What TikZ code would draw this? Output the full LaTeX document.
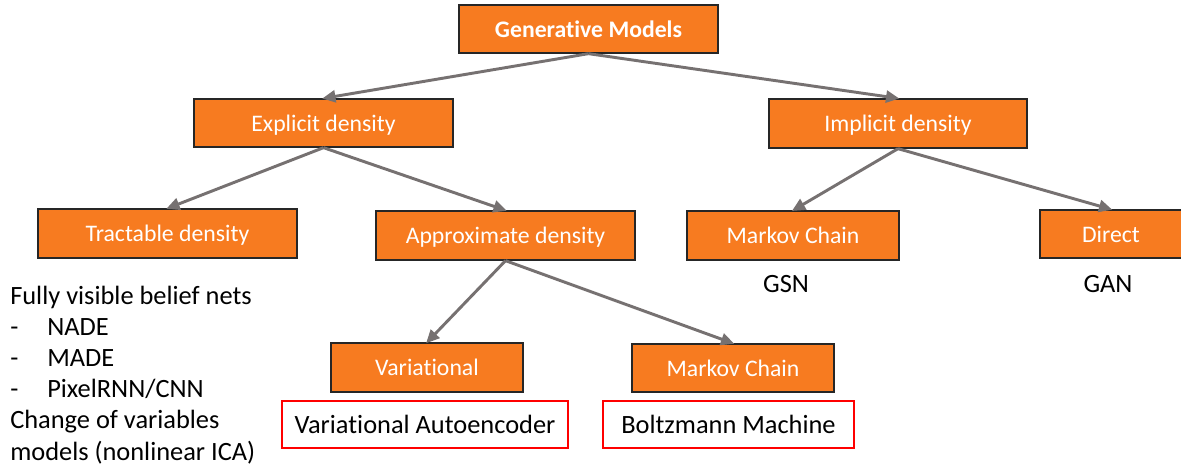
\documentclass[tikz,border=0pt]{standalone}
\usepackage{fontspec}
\setmainfont{Carlito}[Ligatures={NoCommon}]
\usetikzlibrary{arrows.meta}
\definecolor{org}{RGB}{247,123,32}
\definecolor{arrgray}{RGB}{118,113,113}
\definecolor{redb}{RGB}{255,0,0}
\newlength{\pxu}\setlength{\pxu}{0.75pt}
\begin{document}
\begin{tikzpicture}[x=0.75pt,y=-0.75pt,
  obox/.style={draw=black!85, line width=1pt, fill=org, inner sep=0pt, text=white, text height=16pt, text depth=3.5pt, font=\fontsize{17.8}{21}\selectfont},
  rbox/.style={draw=redb, line width=1.6pt, fill=white, inner sep=0pt, text height=17pt, text depth=3.8pt, font=\fontsize{19.8}{23}\selectfont},
  plain/.style={inner sep=0pt, font=\fontsize{19.8}{23}\selectfont},
  conn/.style={draw=arrgray, line width=2.2pt, -{Triangle[length=10pt,width=9pt]}, shorten >=-1pt}
]
\useasboundingbox (0,0) rectangle (1181,473);
\node[obox, minimum width=259\pxu, minimum height=48\pxu, font=\fontsize{17.8}{21}\selectfont\bfseries] (gen) at (588.5,29) {Generative Models};
\node[obox, minimum width=259\pxu, minimum height=48\pxu] (expl) at (323.5,123) {Explicit density};
\node[obox, minimum width=258\pxu, minimum height=49\pxu] (impl) at (898,123.5) {Implicit density};
\node[obox, minimum width=259\pxu, minimum height=49\pxu] (tract) at (167.5,233.5) {Tractable density};
\node[obox, minimum width=259\pxu, minimum height=49\pxu] (approx) at (505.5,235.5) {Approximate density};
\node[obox, minimum width=212\pxu, minimum height=49\pxu] (mc1) at (793,235.5) {Markov Chain};
\node[obox, minimum width=142\pxu, minimum height=48\pxu] (direct) at (1111,234) {Direct};
\node[obox, minimum width=192\pxu, minimum height=49\pxu] (var) at (427,367.5) {Variational};
\node[obox, minimum width=202\pxu, minimum height=48\pxu] (mc2) at (733,368) {Markov Chain};
\node[rbox, minimum width=286\pxu, minimum height=47\pxu] (vae) at (425,424.5) {Variational Autoencoder};
\node[rbox, minimum width=251\pxu, minimum height=47\pxu] (boltz) at (728.5,424.5) {Boltzmann Machine};
\node[plain, anchor=base] (gsn) at (786,293) {GSN};
\node[plain, anchor=base] (gan) at (1108,293) {GAN};
\node[plain, anchor=base west] (l1) at (10,305) {Fully visible belief nets};
\node[plain, anchor=base west] (l2) at (10,336) {\makebox[37\pxu][l]{-}NADE};
\node[plain, anchor=base west] (l3) at (10,367) {\makebox[37\pxu][l]{-}MADE};
\node[plain, anchor=base west] (l4) at (10,398) {\makebox[37\pxu][l]{-}PixelRNN/CNN};
\node[plain, anchor=base west] (l5) at (10,429) {Change of variables};
\node[plain, anchor=base west] (l6) at (10,460) {models (nonlinear ICA)};
\draw[conn] (gen.south) -- (expl.north);
\draw[conn] (gen.south) -- (impl.north);
\draw[conn] (expl.south) -- (tract.north);
\draw[conn] (expl.south) -- (approx.north);
\draw[conn] (impl.south) -- (mc1.north);
\draw[conn] (impl.south) -- (direct.north);
\draw[conn] (approx.south) -- (var.north);
\draw[conn] (approx.south) -- (mc2.north);
\end{tikzpicture}
\end{document}
